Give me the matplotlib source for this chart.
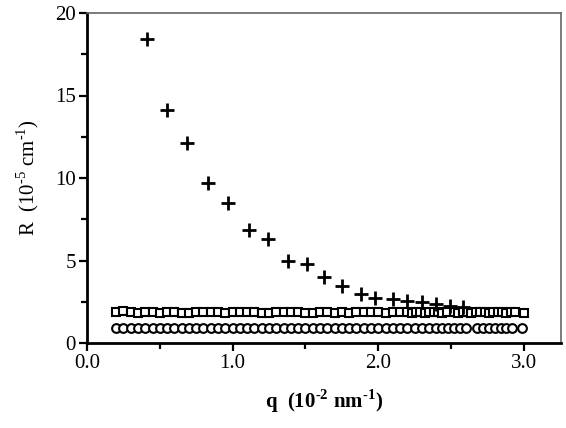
import matplotlib
matplotlib.use("Agg")
import matplotlib.pyplot as plt
from matplotlib.ticker import MultipleLocator, FormatStrFormatter

plt.rcParams['font.family'] = ['Liberation Serif', 'DejaVu Serif']
plt.rcParams['mathtext.fontset'] = 'custom'
plt.rcParams['mathtext.rm'] = 'Liberation Serif'
plt.rcParams['mathtext.bf'] = 'Liberation Serif:bold'

# Data
plus_q = [0.41, 0.55, 0.69, 0.83, 0.97, 1.11, 1.24, 1.38, 1.51, 1.63, 1.75, 1.88,
          1.98, 2.10, 2.20, 2.30, 2.40, 2.49, 2.58]
plus_R = [18.4, 14.1, 12.1, 9.7, 8.5, 6.85, 6.3, 4.95, 4.8, 4.0, 3.45, 3.0,
          2.75, 2.65, 2.55, 2.5, 2.35, 2.25, 2.2]

sq_q = [0.20, 0.25, 0.30, 0.35, 0.40, 0.45, 0.50, 0.55, 0.60, 0.65, 0.70, 0.75,
        0.80, 0.85, 0.90, 0.95, 1.00, 1.05, 1.10, 1.15, 1.20, 1.25, 1.30, 1.35,
        1.40, 1.45, 1.50, 1.55, 1.60, 1.65, 1.70, 1.75, 1.80, 1.85, 1.90, 1.95,
        2.00, 2.05, 2.10, 2.15, 2.20, 2.23, 2.26, 2.29, 2.32, 2.35, 2.38, 2.41,
        2.44, 2.47, 2.52, 2.55, 2.58, 2.61, 2.64, 2.67, 2.70, 2.73, 2.76, 2.79,
        2.82, 2.85, 2.88, 2.91, 2.94, 3.00]
sq_R = [1.88, 1.95, 1.85, 1.82, 1.86, 1.85, 1.83, 1.88, 1.85, 1.80, 1.84, 1.85,
        1.86, 1.85, 1.87, 1.84, 1.85, 1.86, 1.88, 1.86, 1.80, 1.84, 1.85, 1.86,
        1.85, 1.90, 1.84, 1.82, 1.85, 1.86, 1.83, 1.85, 1.84, 1.86, 1.85, 1.88,
        1.86, 1.84, 1.85, 1.86, 1.85, 1.84, 1.86, 1.85, 1.84, 1.85, 1.86, 1.85,
        1.84, 1.86, 1.85, 1.84, 1.86, 1.85, 1.84, 1.85, 1.86, 1.85, 1.84, 1.85,
        1.86, 1.85, 1.84, 1.85, 1.86, 1.84]

ci_q = [0.20, 0.25, 0.30, 0.35, 0.40, 0.45, 0.50, 0.55, 0.60, 0.65, 0.70, 0.75,
        0.80, 0.85, 0.90, 0.95, 1.00, 1.05, 1.10, 1.15, 1.20, 1.25, 1.30, 1.35,
        1.40, 1.45, 1.50, 1.55, 1.60, 1.65, 1.70, 1.75, 1.80, 1.85, 1.90, 1.95,
        2.00, 2.05, 2.10, 2.15, 2.20, 2.25, 2.30, 2.35, 2.40, 2.44, 2.48, 2.52,
        2.56, 2.60, 2.68, 2.72, 2.76, 2.80, 2.84, 2.88, 2.92, 2.99]
ci_R = [0.90, 0.92, 0.90, 0.90, 0.91, 0.90, 0.90, 0.90, 0.91, 0.90,
        0.90, 0.90, 0.90, 0.91, 0.90, 0.90, 0.90, 0.90, 0.91, 0.90, 0.90, 0.90,
        0.90, 0.90, 0.91, 0.90, 0.90, 0.90, 0.90, 0.90, 0.90, 0.91, 0.90, 0.90,
        0.90, 0.90, 0.90, 0.90, 0.91, 0.90, 0.90, 0.90, 0.90, 0.90, 0.90, 0.90,
        0.90, 0.90, 0.90, 0.90, 0.90, 0.90, 0.90, 0.90, 0.90, 0.90, 0.90, 0.92]

fig = plt.figure(figsize=(5.66, 4.28), dpi=100)
ax = fig.add_axes([87/566, 1 - 343/428, (561-87)/566, (343-13)/428])

ax.plot(ci_q, ci_R, linestyle='none', marker='o', ms=6.3, mfc='white',
        mec='black', mew=1.5)
ax.plot(sq_q, sq_R, linestyle='none', marker='s', ms=5.6, mfc='white',
        mec='black', mew=1.5)
ax.plot(plus_q, plus_R, linestyle='none', marker='+', ms=9.5, mec='black',
        mew=2.0)

ax.set_xlim(0, 3.255)
ax.set_ylim(0, 20)
ax.xaxis.set_major_locator(MultipleLocator(1.0))
ax.xaxis.set_minor_locator(MultipleLocator(0.5))
ax.yaxis.set_major_locator(MultipleLocator(5))
ax.yaxis.set_minor_locator(MultipleLocator(2.5))
ax.xaxis.set_major_formatter(FormatStrFormatter('%.1f'))

for s in ['left', 'bottom']:
    ax.spines[s].set_linewidth(2.0)
    ax.spines[s].set_color('black')
for s in ['top', 'right']:
    ax.spines[s].set_linewidth(1.2)
    ax.spines[s].set_color('#666666')

ax.tick_params(which='both', direction='out', top=False, right=False,
               width=1.6, labelsize=15, pad=2)
ax.tick_params(which='major', length=6)
ax.tick_params(which='minor', length=4)

ax.set_xlabel(r'q  (10$^{\mathbf{\text{-}2}}$ nm$^{\mathbf{\text{-}1}}$)',
              fontsize=15, fontweight='bold', labelpad=10)
ax.set_ylabel(r'R  (10$^{\mathdefault{\text{-}5}}$ cm$^{\mathdefault{\text{-}1}}$)',
              fontsize=15, labelpad=10)

fig.savefig('out.png', dpi=100)
